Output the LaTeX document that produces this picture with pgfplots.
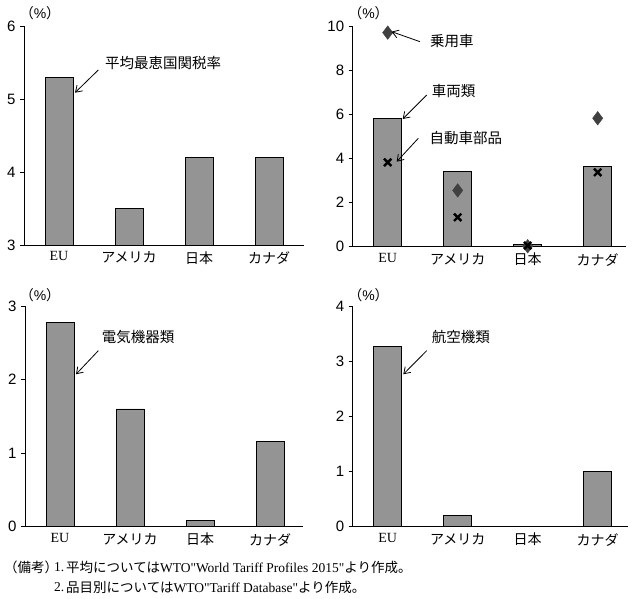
\documentclass[border=0pt]{standalone}
\usepackage{fontspec}
\setmainfont{Liberation Sans}
\newfontfamily\cjk{Noto Sans CJK JP}
\newfontfamily\serif{Liberation Serif}
\usepackage{pgfplots}
\pgfplotsset{compat=1.18}
\usetikzlibrary{arrows.meta}

\pgfplotsset{
  panel/.style={
    scale only axis, axis lines=left, axis line style={-, line width=0.9pt},
    enlargelimits=false, xmin=-0.5,
    xtick={0,1,2,3}, xticklabels={{\serif EU},{\cjk アメリカ},{\cjk 日本},{\cjk カナダ}},
    x tick label style={font=\fontsize{14}{16}\selectfont, yshift=-1pt},
    major x tick style={draw=none},
    y tick label style={font=\fontsize{15}{17}\selectfont, xshift=-1pt},
    /pgf/number format/assume math mode=true,
    ytick align=outside, major tick length=4pt, major y tick style={line width=0.9pt, black},
  },
  mybar/.style={ybar, bar width=28pt, fill=black!42, draw=black, line width=0.8pt},
}
\tikzset{
  lab/.style={anchor=west, font=\cjk\fontsize{14.5}{16}\selectfont, inner sep=0pt},
  arr/.style={-{Straight Barb[length=6pt,width=8pt]}, line width=0.8pt},
  pct/.style={font=\fontsize{14}{16}\selectfont, inner sep=0pt},
}

\begin{document}
\begin{tikzpicture}
\path (0pt,0pt) rectangle (637pt,599pt);

% Panel 1: average MFN tariff
\begin{axis}[panel, anchor=south west, at={(24pt,354pt)}, width=280pt, height=219pt,
  xmax=3.5, ymin=3, ymax=6, ytick={3,4,5,6}]
\addplot[mybar] coordinates {(0,5.3) (1,3.5) (2,4.2) (3,4.2)};
\end{axis}

% Panel 2: vehicles
\begin{axis}[panel, anchor=south west, at={(352.7pt,352.3pt)}, width=273pt, height=220.7pt,
  xmax=3.4, ymin=0, ymax=10, ytick={0,2,4,6,8,10}, clip=false]
\addplot[mybar] coordinates {(0,5.8) (1,3.4) (2,0.1) (3,3.65)};
\addplot[only marks, mark=diamond*, mark size=6.8pt, color=black!75] coordinates {(0,9.7) (1,2.55) (2,0.02) (3,5.82)};
\addplot[only marks, mark=x, mark size=5.2pt, line width=2.4pt, color=black] coordinates {(0,3.82) (1,1.33) (2,0.05) (3,3.37)};
\end{axis}

% Panel 3: electrical machinery
\begin{axis}[panel, anchor=south west, at={(25pt,72.3pt)}, width=278pt, height=220.7pt,
  xmax=3.47, ymin=0, ymax=3, ytick={0,1,2,3}]
\addplot[mybar] coordinates {(0,2.78) (1,1.6) (2,0.08) (3,1.16)};
\end{axis}

% Panel 4: aircraft
\begin{axis}[panel, anchor=south west, at={(352.7pt,72.3pt)}, width=275pt, height=220.7pt,
  xmax=3.43, ymin=0, ymax=4, ytick={0,1,2,3,4}]
\addplot[mybar] coordinates {(0,3.27) (1,0.2) (2,0) (3,1.0)};
\end{axis}

% (%) labels
\node[pct] at (40pt,586pt) {{\cjk （}\%{\cjk ）}};
\node[pct] at (368.5pt,586pt) {{\cjk （}\%{\cjk ）}};
\node[pct] at (40pt,304pt) {{\cjk （}\%{\cjk ）}};
\node[pct] at (368.5pt,304pt) {{\cjk （}\%{\cjk ）}};

% annotations
\node[lab] at (105pt,536pt) {平均最恵国関税率};
\draw[arr] (98.3pt,529pt) -- (75pt,506.3pt);

\node[lab] at (430pt,558.3pt) {乗用車};
\draw[arr] (420pt,557.3pt) -- (391.7pt,567.3pt);
\node[lab] at (431.7pt,507.7pt) {車両類};
\draw[arr] (426.7pt,504pt) -- (402.7pt,480pt);
\node[lab] at (429.3pt,461pt) {自動車部品};
\draw[arr] (418.3pt,460.7pt) -- (396.7pt,437.3pt);

\node[lab] at (101.7pt,261.5pt) {電気機器類};
\draw[arr] (98.3pt,248.3pt) -- (76pt,224.7pt);
\node[lab] at (431.7pt,261.5pt) {航空機類};
\draw[arr] (426.7pt,248.3pt) -- (403.3pt,224.7pt);

% notes
\node[anchor=west, inner sep=0pt, font=\cjk\fontsize{13.5}{15}\selectfont] at (4pt,32pt) {（備考）};
\node[anchor=west, inner sep=0pt, font=\serif\fontsize{13.5}{15}\selectfont] at (54pt,32pt) {1.};
\node[anchor=west, inner sep=0pt, font=\cjk\fontsize{13.5}{15}\selectfont] at (66pt,32pt) {平均については{\serif WTO"World Tariff Profiles 2015"}より作成。};
\node[anchor=west, inner sep=0pt, font=\serif\fontsize{13.5}{15}\selectfont] at (54pt,12pt) {2.};
\node[anchor=west, inner sep=0pt, font=\cjk\fontsize{13.5}{15}\selectfont] at (66pt,12pt) {品目別については{\serif WTO"Tariff Database"}より作成。};
\end{tikzpicture}
\end{document}
